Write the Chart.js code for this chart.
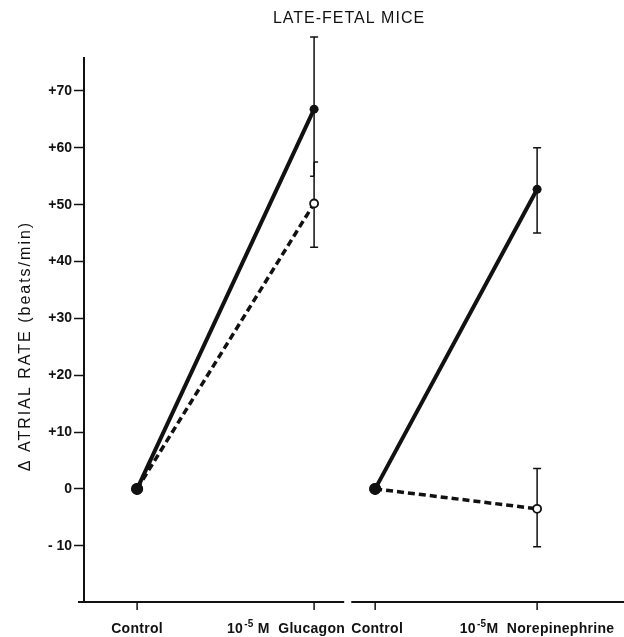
<!DOCTYPE html>
<html>
<head>
<meta charset="utf-8">
<script src="https://cdn.jsdelivr.net/npm/chart.js@4/dist/chart.umd.min.js"></script>
<style>
  html, body { margin: 0; padding: 0; background: #fff; }
</style>
</head>
<body>
<canvas id="chart" width="624" height="637"></canvas>
<script>
// category tick labels: [base, superscript, rest]
const categories = [['Control'], ['10', '-5', ' M  Glucagon'], ['Control'], ['10', '-5', 'M  Norepinephrine']];
const yTicks = [-10, 0, 10, 20, 30, 40, 50, 60, 70];

const glucagonSolid = [0, 66.8];
const glucagonSolidLow = [null, 55];
const glucagonSolidHigh = [null, 79.5];
const glucagonDashed = [0, 50.2];
const glucagonDashedLow = [null, 42.5];
const glucagonDashedHigh = [null, 57.5];

const norepiSolid = [0, 52.7];
const norepiSolidLow = [null, 45];
const norepiSolidHigh = [null, 60];
const norepiDashed = [0, -3.5];
const norepiDashedLow = [null, -10.2];
const norepiDashedHigh = [null, 3.6];

// where each category sits on the hidden linear x scale
const slot = [0, 1, 1.345, 2.26];
const labelShift = [0, -28, 2, 0];

const ink = '#111';
const family = '"Liberation Sans", Arial, sans-serif';

const series = (vals, low, high, slots, dashed, caps) => ({
    data: vals.map((y, i) => ({ x: slot[slots[i]], y })),
    low,
    high,
    caps,
    borderColor: ink,
    borderWidth: dashed ? 3.5 : 4,
    borderDash: dashed ? [7, 4] : [],
    pointRadius: dashed ? [6, 4] : [6, 4.5],
    pointBorderWidth: dashed ? [0, 1.8] : [0, 0],
    pointBackgroundColor: dashed ? [ink, '#fff'] : [ink, ink],
    pointBorderColor: ink,
    fill: false,
    tension: 0,
});

const txt = (ctx, s, x, y, font, spacing = '0px') => {
    ctx.font = font;
    ctx.letterSpacing = spacing;
    ctx.fillText(s, x, y);
    return ctx.measureText(s).width;
};

const extras = {
    id: 'extras',
    beforeDatasetsDraw(chart) {
        const { ctx } = chart;
        const xs = chart.scales.x;
        const ys = chart.scales.y;
        ctx.save();
        ctx.strokeStyle = ink;
        ctx.lineWidth = 1.5;
        chart.data.datasets.forEach((ds) => {
            ds.data.forEach((p, i) => {
                if (ds.low[i] == null) return;
                const x = xs.getPixelForValue(p.x);
                const y0 = ys.getPixelForValue(ds.low[i]);
                const y1 = ys.getPixelForValue(ds.high[i]);
                ctx.beginPath();
                ctx.moveTo(x, y0);
                ctx.lineTo(x, y1);
                [[y0, ds.caps[0]], [y1, ds.caps[1]]].forEach(([y, side]) => {
                    const l = side === 'right' ? 0 : 4;
                    const r = side === 'left' ? 0 : 4;
                    ctx.moveTo(x - l, y);
                    ctx.lineTo(x + r, y);
                });
                ctx.stroke();
            });
        });
        ctx.restore();
    },
    afterDraw(chart) {
        const { ctx, chartArea } = chart;
        const xs = chart.scales.x;
        const base = chartArea.bottom;
        ctx.save();
        ctx.fillStyle = ink;
        ctx.strokeStyle = ink;

        // broken x axis
        ctx.lineWidth = 2;
        ctx.beginPath();
        ctx.moveTo(chartArea.left - 6, base);
        ctx.lineTo(xs.getPixelForValue(1.17), base);
        ctx.moveTo(xs.getPixelForValue(1.21), base);
        ctx.lineTo(chart.width, base);
        ctx.stroke();

        // x ticks and labels
        ctx.lineWidth = 1.5;
        ctx.textBaseline = 'alphabetic';
        ctx.textAlign = 'left';
        const mainFont = `bold 14px ${family}`;
        const supFont = `bold 10px ${family}`;
        categories.forEach((parts, i) => {
            const x = xs.getPixelForValue(slot[i]);
            ctx.beginPath();
            ctx.moveTo(x, base);
            ctx.lineTo(x, base + 8);
            ctx.stroke();
            ctx.font = mainFont;
            ctx.letterSpacing = '0.3px';
            let w = ctx.measureText(parts[0]).width;
            if (parts.length > 1) {
                ctx.font = supFont;
                w += ctx.measureText(parts[1]).width + 1;
                ctx.font = mainFont;
                w += ctx.measureText(parts[2]).width;
            }
            let cx = x + labelShift[i] - w / 2;
            const y = base + 31;
            cx += txt(ctx, parts[0], cx, y, mainFont, '0.3px');
            if (parts.length > 1) {
                cx += txt(ctx, parts[1], cx + 1, y - 6, supFont, '0.3px') + 1;
                txt(ctx, parts[2], cx, y, mainFont, '0.3px');
            }
        });

        // title
        ctx.textAlign = 'center';
        txt(ctx, 'LATE-FETAL MICE', 349, 23, `16px ${family}`, '1px');

        // y axis title
        ctx.translate(26, 346);
        ctx.rotate(-Math.PI / 2);
        ctx.textBaseline = 'middle';
        txt(ctx, '\u0394 ATRIAL RATE (beats/min)', 0, 0, `16px ${family}`, '2px');
        ctx.restore();
    },
};

new Chart(document.getElementById('chart'), {
    type: 'line',
    data: {
        datasets: [
            series(glucagonDashed, glucagonDashedLow, glucagonDashedHigh, [0, 1], true, ['both', 'right']),
            series(glucagonSolid, glucagonSolidLow, glucagonSolidHigh, [0, 1], false, ['left', 'both']),
            series(norepiDashed, norepiDashedLow, norepiDashedHigh, [2, 3], true, ['both', 'both']),
            series(norepiSolid, norepiSolidLow, norepiSolidHigh, [2, 3], false, ['both', 'both']),
        ],
    },
    options: {
        responsive: false,
        animation: false,
        devicePixelRatio: 1,
        layout: { padding: { top: 58, bottom: 35, left: 0, right: 0 } },
        plugins: { legend: { display: false }, tooltip: { enabled: false }, title: { display: false } },
        scales: {
            x: { type: 'linear', display: false, min: -0.3, max: 2.717 },
            y: {
                min: -19.9,
                max: 75.8,
                afterFit: (s) => { s.width = 84; },
                afterBuildTicks: (s) => { s.ticks = yTicks.map((value) => ({ value })); },
                border: { color: ink, width: 2 },
                grid: { drawOnChartArea: false, tickLength: 10, tickWidth: 1.5, tickColor: ink },
                ticks: {
                    color: ink,
                    padding: 2,
                    font: { family, size: 14, weight: 'bold' },
                    callback: (v) => (v > 0 ? '+' + v : v < 0 ? '- ' + Math.abs(v) : '' + v),
                },
            },
        },
    },
    plugins: [extras],
});
</script>
</body>
</html>
